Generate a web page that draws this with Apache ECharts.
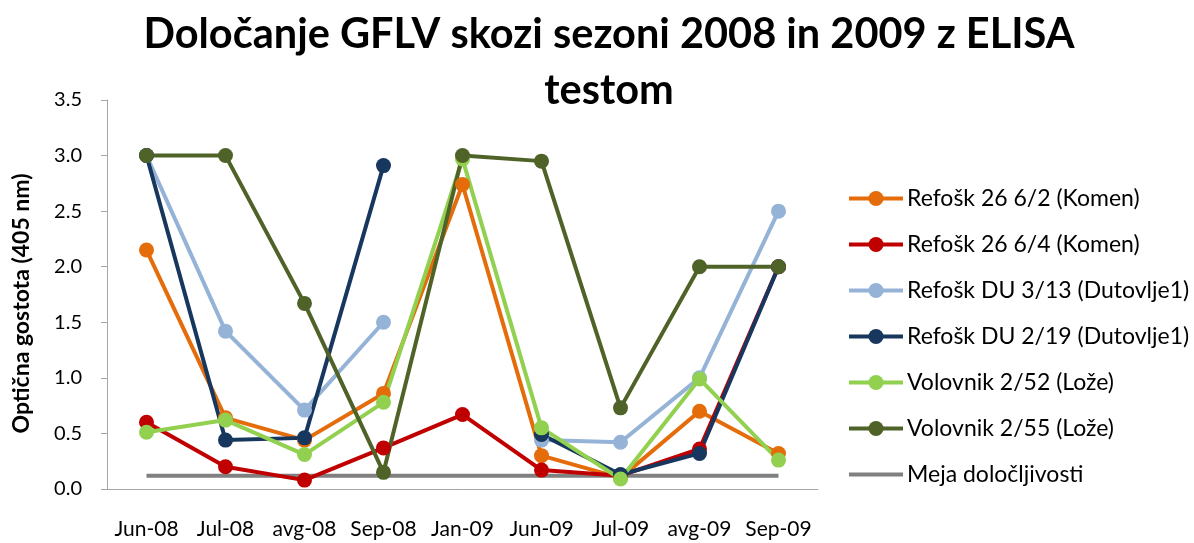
<!DOCTYPE html>
<html>
<head>
<meta charset="utf-8">
<script src="https://cdn.jsdelivr.net/npm/echarts@6/dist/echarts.min.js"></script>
<style>
  html, body { margin: 0; padding: 0; background: #fff; }
  #chart { width: 1194px; height: 543px; }
</style>
</head>
<body>
<div id="chart"></div>
<script>
// Sampling dates
const categories = ['Jun-08', 'Jul-08', 'avg-08', 'Sep-08', 'Jan-09', 'Jun-09', 'Jul-09', 'avg-09', 'Sep-09'];

// Optical density (405 nm) per vine; null = not measured
const refosk26_6_2 = [2.15, 0.64, 0.44, 0.86, 2.74, 0.30, 0.10, 0.70, 0.32];
const refosk26_6_4 = [0.60, 0.20, 0.08, 0.37, 0.67, 0.17, 0.12, 0.36, 2.00];
const refoskDU3_13 = [3.00, 1.42, 0.71, 1.50, null, 0.44, 0.42, 1.00, 2.50];
const refoskDU2_19 = [3.00, 0.44, 0.46, 2.91, null, 0.49, 0.13, 0.32, 2.00];
const volovnik2_52 = [0.51, 0.62, 0.31, 0.78, 2.97, 0.55, 0.09, 0.99, 0.26];
const volovnik2_55 = [3.00, 3.00, 1.67, 0.15, 3.00, 2.95, 0.73, 2.00, 2.00];
const detectionLimit = [0.12, 0.12, 0.12, 0.12, 0.12, 0.12, 0.12, 0.12, 0.12];

const yTicks = { min: 0, max: 3.5, interval: 0.5 };

const FONT = 'Lato, "Open Sans", sans-serif';
const LIMIT_NAME = 'Meja določljivosti';

function lineSeries(name, data, color) {
  return {
    name: name,
    type: 'line',
    data: data,
    symbol: 'circle',
    symbolSize: 15,
    connectNulls: false,
    itemStyle: { color: color },
    lineStyle: { color: color, width: 4 }
  };
}

const series = [
  lineSeries('Refošk 26 6/2 (Komen)', refosk26_6_2, '#E46C0A'),
  lineSeries('Refošk 26 6/4 (Komen)', refosk26_6_4, '#C00000'),
  lineSeries('Refošk DU 3/13 (Dutovlje1)', refoskDU3_13, '#95B3D7'),
  lineSeries('Refošk DU 2/19 (Dutovlje1)', refoskDU2_19, '#17375E'),
  lineSeries('Volovnik 2/52 (Lože)', volovnik2_52, '#92D050'),
  lineSeries('Volovnik 2/55 (Lože)', volovnik2_55, '#4F6228'),
  {
    name: LIMIT_NAME,
    type: 'line',
    data: detectionLimit,
    symbol: 'none',
    itemStyle: { color: '#808080' },
    lineStyle: { color: '#808080', width: 4 },
    z: 1
  }
];

// The detection limit has no markers, so its legend key is a plain bar
const legendData = series.map(s => s.name === LIMIT_NAME
  ? { name: s.name, icon: 'path://M0,0H54V4H0Z', itemStyle: { color: '#808080' } }
  : s.name);

const chart = echarts.init(document.getElementById('chart'), null, { renderer: 'canvas' });
chart.setOption({
  animation: false,
  backgroundColor: '#ffffff',
  textStyle: { fontFamily: FONT },
  title: {
    text: 'Določanje GFLV skozi sezoni 2008 in 2009 z ELISA\ntestom',
    left: 604,
    textAlign: 'center',
    top: 2,
    textStyle: {
      fontFamily: FONT,
      fontSize: 41.5,
      fontWeight: 'bold',
      color: '#000000',
      lineHeight: 56
    }
  },
  legend: {
    orient: 'vertical',
    left: 842,
    top: 182,
    itemWidth: 54,
    itemHeight: 19,
    itemGap: 23,
    symbolKeepAspect: true,
    lineStyle: { width: 4 },
    textStyle: { fontFamily: FONT, fontSize: 23, lineHeight: 19, color: '#000000', padding: [0, 0, 0, -1] },
    data: legendData
  },
  grid: { left: 107, right: 376, top: 100, bottom: 54, containLabel: false },
  xAxis: {
    type: 'category',
    data: categories,
    boundaryGap: true,
    axisLine: { lineStyle: { color: '#A6A6A6', width: 1 } },
    axisTick: { alignWithLabel: true, length: 6, lineStyle: { color: '#A6A6A6' } },
    axisLabel: { interval: 0, hideOverlap: false, fontFamily: FONT, fontSize: 21, color: '#000000', margin: 30 }
  },
  yAxis: {
    type: 'value',
    min: yTicks.min,
    max: yTicks.max,
    interval: yTicks.interval,
    name: 'Optična gostota (405 nm)',
    nameLocation: 'middle',
    nameGap: 74,
    nameRotate: 90,
    nameTextStyle: { fontFamily: FONT, fontSize: 23, fontWeight: 'bold', color: '#000000', padding: [0, 18, 0, 0] },
    axisLine: { show: true, lineStyle: { color: '#A6A6A6', width: 1 } },
    axisTick: { show: true, length: 6, lineStyle: { color: '#A6A6A6' } },
    splitLine: { show: false },
    axisLabel: {
      fontFamily: FONT, fontSize: 20, color: '#000000', margin: 25,
      formatter: v => v.toFixed(1)
    }
  },
  series: series
});
</script>
</body>
</html>
